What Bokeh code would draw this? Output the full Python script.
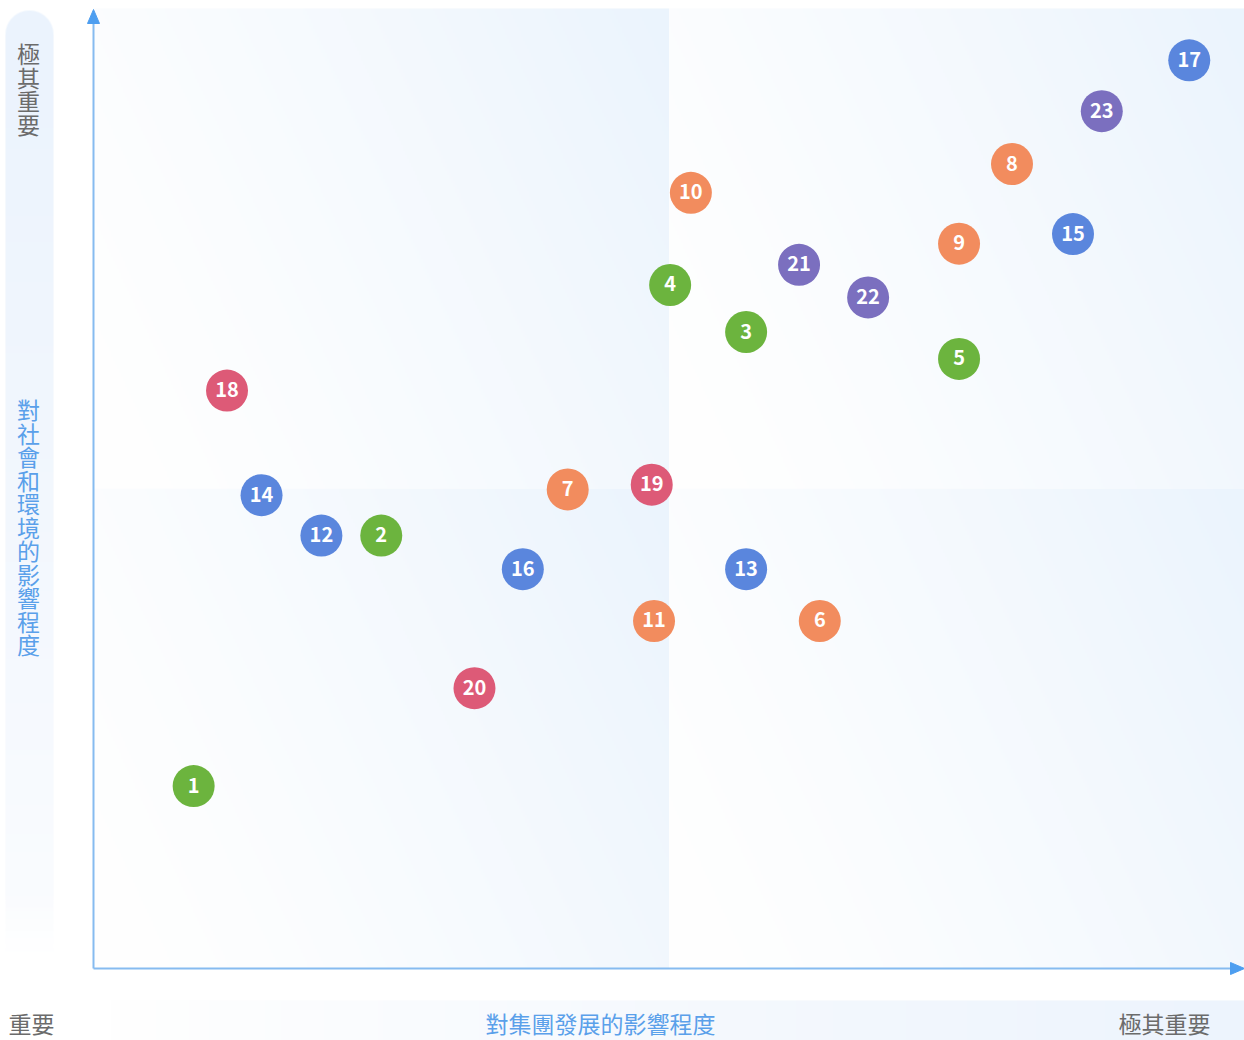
import numpy as np
from bokeh.plotting import figure
from bokeh.models import Range1d, ColumnDataSource
from bokeh.core.properties import value
from bokeh.embed import file_html
from bokeh.resources import INLINE

# ---------------- data ----------------
ids = [str(i) for i in range(1, 24)]
# x: 對集團發展的影響程度 (0..10), y: 對社會和環境的影響程度 (0..10)
impact_group = [0.87, 2.50, 5.67, 5.01, 7.52, 6.31, 4.12, 7.98, 7.52, 5.19, 4.87,
                1.98, 5.67, 1.46, 8.51, 3.73, 9.52, 1.16, 4.85, 3.31, 6.13, 6.73, 8.76]
impact_society = [1.90, 4.51, 6.63, 7.12, 6.35, 3.62, 4.99, 8.38, 7.55, 8.08, 3.62,
                  4.51, 4.16, 4.93, 7.65, 4.16, 9.46, 6.02, 5.04, 2.92, 7.33, 6.99, 8.93]
category = ["A"] * 5 + ["B"] * 6 + ["C"] * 6 + ["D"] * 3 + ["E"] * 3

y_axis_top_label = "極其重要"
y_axis_title = "對社會和環境的影響程度"
x_axis_low_label = "重要"
x_axis_title = "對集團發展的影響程度"
x_axis_high_label = "極其重要"

palette = {"A": "#6cb43e", "B": "#f28c5e", "C": "#5a86dd", "D": "#dd5a77", "E": "#7b6fbf"}
colors = [palette[c] for c in category]

# ---------------- figure ----------------
W, H = 1244, 1040
PX0, PY0 = 0, 0          # page offset of the canvas
SX = 115.1               # px per data unit (x)
SY = 96.0                # px per data unit (y)
X0_PAGE, Y0_PAGE = 93, 968

x_start = (PX0 - X0_PAGE) / SX
x_end = (PX0 + W - X0_PAGE) / SX
y_end = (Y0_PAGE - PY0) / SY
y_start = (Y0_PAGE - (PY0 + H)) / SY

p = figure(width=W, height=H, x_range=Range1d(x_start, x_end), y_range=Range1d(y_start, y_end),
           output_backend="svg", toolbar_location=None, min_border=0, title=None,
           x_axis_location=None, y_axis_location=None, background_fill_color="white",
           border_fill_color="white")
p.grid.visible = False
p.outline_line_color = None
# page-pixel helper ranges (y as negative page y, so up is positive)
p.extra_x_ranges = {"px": Range1d(PX0, PX0 + W)}
p.extra_y_ranges = {"py": Range1d(-(PY0 + H), -PY0)}


def lerp(c0, c1, t):
    c0 = np.array(c0, dtype=float)
    c1 = np.array(c1, dtype=float)
    return c0[None, None, :] * (1 - t[..., None]) + c1[None, None, :] * t[..., None]


def to_rgba(rgb, alpha=None):
    h, w, _ = rgb.shape
    img = np.empty((h, w), dtype=np.uint32)
    view = img.view(dtype=np.uint8).reshape((h, w, 4))
    view[:, :, :3] = np.clip(rgb, 0, 255).astype(np.uint8)
    if alpha is None:
        view[:, :, 3] = 255
    else:
        view[:, :, 3] = (np.clip(alpha, 0, 1) * 255).astype(np.uint8)
    return img


WHITE = (255, 255, 255)
LIGHT = (235, 244, 253)

# plotting area starts a few px below the top
p.quad(left=[0], right=[W], top=[0], bottom=[-8], fill_color="white", line_color=None,
       x_range_name="px", y_range_name="py")

# quadrant backgrounds (subtle diagonal gradients)
qw, qh = 288, 240
u = np.linspace(0, 1, qw)[None, :].repeat(qh, 0)
v = np.linspace(0, 1, qh)[:, None].repeat(qw, 1)
tq = np.clip(0.72 * u + 0.28 * v, 0, 1) ** 1.3
quad_img = to_rgba(lerp(WHITE, LIGHT, tq))
for qx in (0, 5):
    for qy in (0, 5):
        p.image_rgba(image=[quad_img], x=qx, y=qy, dw=5, dh=5)

# left vertical band with rounded top
bw, bh = 48, 950
jj = np.arange(bw)[None, :].repeat(bh, 0) + 0.5
ii = np.arange(bh)[:, None].repeat(bw, 1) + 0.5   # from bottom
tb = (ii / bh) ** 0.8
rgb_b = lerp((252, 253, 255), (235, 243, 253), tb)
r = bw / 2
cy = bh - r
d = np.sqrt((jj - r) ** 2 + (ii - cy) ** 2)
alpha_b = np.where(ii > cy, np.clip(r - d + 0.5, 0, 1), 1.0)
fade = np.clip((ii) / 60.0, 0, 1)
alpha_b = alpha_b * fade
p.image_rgba(image=[to_rgba(rgb_b, alpha_b)], x=5, y=-(10 + bh), dw=bw, dh=bh,
             x_range_name="px", y_range_name="py")

# bottom horizontal band
hw, hh = 1134, 40
ub = np.linspace(0, 1, hw)[None, :].repeat(hh, 0)
rgb_h = lerp(WHITE, (237, 244, 253), ub ** 0.9)
p.image_rgba(image=[to_rgba(rgb_h)], x=110, y=-1040, dw=hw, dh=hh,
             x_range_name="px", y_range_name="py")

# axis lines with arrow heads
axis_color = "#86bbf0"
arrow_color = "#4d9ef0"
p.segment(x0=[93, 93], y0=[-968, -968], x1=[93, 1232], y1=[-20, -968],
          line_color=axis_color, line_width=2, x_range_name="px", y_range_name="py")
p.patches(xs=[[87, 99, 93], [1230, 1230, 1244]], ys=[[-23, -23, -9], [-962, -974, -968]],
          fill_color=arrow_color, line_color=arrow_color, line_width=1,
          x_range_name="px", y_range_name="py")

# axis texts (vertical: one character per line)
CJK = value("Noto Sans CJK TC")
gray = "#6b6b6b"
blue = "#5aa0ea"
STEP = 23.5


def vertical_text(s, top, color):
    chars = list(s)
    ys = [-(top + STEP / 2 + i * STEP) for i in range(len(chars))]
    p.text(x=[28] * len(chars), y=ys, text=chars, text_font=CJK, text_font_size="23px",
           text_color=color, text_align="center", text_baseline="middle",
           x_range_name="px", y_range_name="py")


vertical_text(y_axis_top_label, 41, gray)
vertical_text(y_axis_title, 397, blue)
p.text(x=[8, 600, 1210], y=[-1022, -1022, -1022], text=[x_axis_low_label, x_axis_title, x_axis_high_label],
       text_font=CJK, text_font_size="23px", text_color=[gray, blue, gray],
       text_align=["left", "center", "right"], text_baseline="middle",
       x_range_name="px", y_range_name="py")

# points
src = ColumnDataSource(dict(x=impact_group, y=impact_society, id=ids, color=colors, cat=category))
p.scatter(x="x", y="y", source=src, size=42, fill_color="color", line_color=None)
p.text(x="x", y="y", text="id", source=src, text_color="white", text_font=CJK,
       text_font_style="bold", text_font_size="20px", text_align="center",
       text_baseline="middle", y_offset=-1)

open("out.html", "w").write(file_html(p, INLINE))
